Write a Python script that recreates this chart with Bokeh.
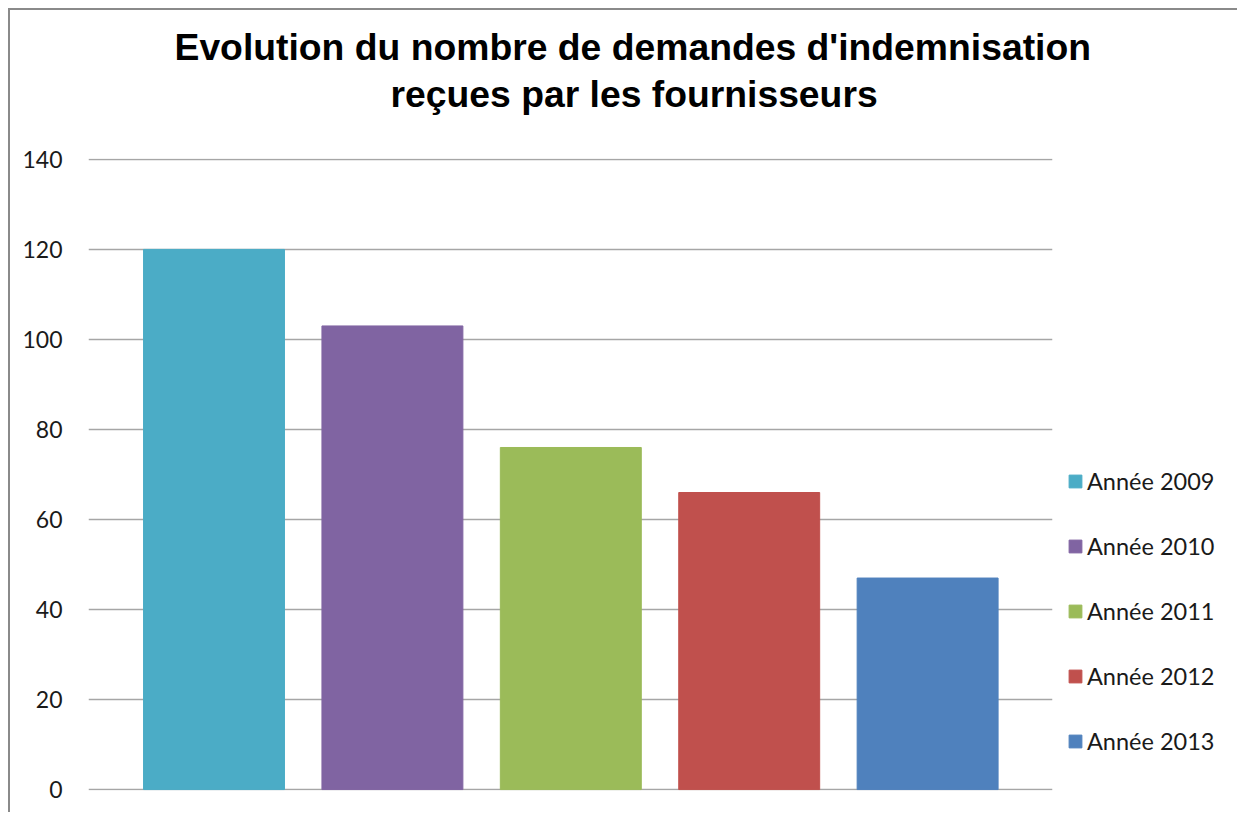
from bokeh.plotting import figure
from bokeh.models import Range1d, Legend, LegendItem, FixedTicker, Title
from bokeh.embed import file_html
from bokeh.resources import INLINE

# ---- data ----
years = ["Année 2009", "Année 2010", "Année 2011", "Année 2012", "Année 2013"]
values = [120, 103, 76, 66, 47]
colors = ["#4BACC6", "#8064A2", "#9BBB59", "#C0504D", "#4F81BD"]
y_ticks = [0, 20, 40, 60, 80, 100, 120, 140]
title_lines = ["Evolution du nombre de demandes d'indemnisation",
               "reçues par les fournisseurs"]

positions = list(range(len(years)))

p = figure(frame_width=964, frame_height=632, output_backend="svg", toolbar_location=None,
           x_range=Range1d(-0.7035, 4.70), y_range=Range1d(-0.2, 140.2),
           min_border_left=78, min_border_right=183, min_border_top=148,
           min_border_bottom=22)
p.styles = {"border-top": "2px solid #8a8a8a", "border-left": "2px solid #8a8a8a",
            "margin-top": "8px", "margin-left": "8px"}
p.outline_line_color = None
p.background_fill_color = "white"
p.border_fill_color = "white"
p.title.text = ""

p.xaxis.visible = False
p.xgrid.visible = False
p.yaxis.axis_line_color = None
p.yaxis.major_tick_line_color = None
p.yaxis.minor_tick_line_color = None
p.yaxis.ticker = FixedTicker(ticks=y_ticks)
p.yaxis.major_label_text_font = "Lato"
p.yaxis.major_label_text_font_size = "23px"
p.yaxis.major_label_text_color = "#1a1a1a"
p.yaxis.major_label_standoff = 20
p.ygrid.grid_line_color = "#a6a6a6"
p.ygrid.grid_line_width = 1.5

renderers = []
for i in range(len(years)):
    r = p.vbar(x=[positions[i]], top=[values[i]], width=0.79, bottom=0,
               fill_color=colors[i], line_color=colors[i], line_width=1)
    renderers.append(r)

legend = Legend(items=[LegendItem(label=years[i], renderers=[renderers[i]]) for i in range(len(years))],
                location=(15, 35), orientation="vertical")
legend.glyph_width = 16
legend.glyph_height = 16
legend.label_text_font = "Lato"
legend.label_text_font_size = "23.5px"
legend.label_text_color = "#1a1a1a"
legend.label_standoff = 4
legend.label_height = 20
legend.spacing = 37
legend.padding = 0
legend.margin = 0
legend.border_line_color = None
legend.background_fill_alpha = 0
p.add_layout(legend, "right")

# invisible spacer between the frame and the title lines
spacer = Title(text=" ", text_font_size="10px", standoff=29)
t2 = Title(text=title_lines[1], align="left", offset=302, standoff=3,
           text_font="Liberation Sans", text_font_style="bold",
           text_font_size="37.3px", text_color="black")
t1 = Title(text=title_lines[0], align="left", offset=86, standoff=3,
           text_font="Liberation Sans", text_font_style="bold",
           text_font_size="37.3px", text_color="black")
p.add_layout(spacer, "above")
p.add_layout(t2, "above")
p.add_layout(t1, "above")

open("out.html", "w").write(file_html(p, INLINE))
